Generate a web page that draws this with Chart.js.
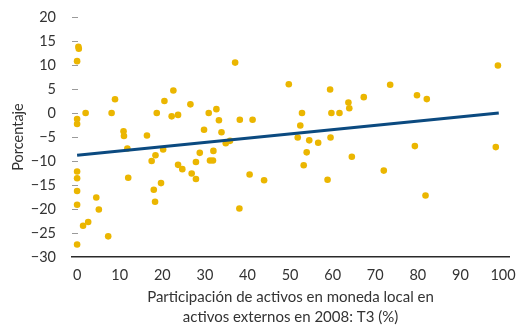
<!DOCTYPE html>
<html>
<head>
<meta charset="UTF-8">
<title>Participación de activos en moneda local</title>
<script src="https://cdn.jsdelivr.net/npm/chart.js@4/dist/chart.umd.min.js"></script>
<style>
  html, body { margin: 0; padding: 0; background: #fff; }
  #wrap { width: 526px; height: 327px; }
</style>
</head>
<body>
<div id="wrap"><canvas id="chart" width="526" height="327"></canvas></div>
<script>
// Participación de activos en moneda local (x, %) vs. variación (y, porcentaje)
var shareLocal = [
  0.3, 0.4, 0, 2.0, 0, 0, 8.1, 8.9, 10.9, 11.0,
  16.4, 18.7, 20.5, 22.6, 22.2, 23.7, 0, 0, 0, 0,
  0, 1.4, 2.6, 4.5, 5.1, 7.3, 11.8, 12.0, 17.5, 18.4,
  20.2, 18.0, 18.3, 19.7, 23.7, 24.7, 26.9, 27.9, 27.9, 28.8,
  31.2, 31.9, 32.0, 34.9, 35.9, 38.1, 40.5, 43.9, 26.6, 30.9,
  32.7, 33.3, 29.8, 33.9, 37.1, 38.2, 41.2, 49.7, 52.8, 52.4,
  59.4, 59.7, 61.6, 51.8, 54.5, 56.6, 59.5, 53.9, 53.2, 58.8,
  63.7, 63.9, 67.3, 73.5, 79.8, 82.1, 98.8, 64.5, 72.0, 79.3,
  81.8, 98.3
];
var pctChange = [
  13.8, 13.4, 10.8, 0, -1.25, -2.3, 0, 2.85, -3.8, -4.8,
  -4.7, 0, 2.5, 4.7, -0.7, -0.4, -12.2, -13.6, -16.25, -19.1,
  -27.4, -23.5, -22.7, -17.6, -20.1, -25.7, -7.4, -13.5, -10.0, -8.8,
  -7.6, -16.0, -18.5, -14.6, -10.8, -11.7, -12.6, -13.75, -10.2, -8.3,
  -9.9, -9.9, -7.9, -6.3, -5.8, -19.9, -12.8, -14.0, 1.8, 0,
  0.8, -1.5, -3.5, -4.0, 10.5, -1.4, -1.4, 6.0, 0, -2.6,
  4.9, 0, 0, -5.1, -5.7, -6.2, -5.1, -8.2, -10.9, -13.9,
  2.2, 1.0, 3.3, 5.9, 3.7, 2.9, 9.9, -9.1, -12.0, -6.9,
  -17.2, -7.1
];

// recta de tendencia (extremos)
var trendX = [0, 99];
var trendY = [-8.8, 0];

var yTicks = [20, 15, 10, 5, 0, -5, -10, -15, -20, -25, -30];
var xTitle = ['Participación de activos en moneda local en', 'activos externos en 2008: T3 (%)'];
var yTitle = 'Porcentaje';

var scatterPts = shareLocal.map(function (x, i) { return { x: x, y: pctChange[i] }; });
var trendPts = trendX.map(function (x, i) { return { x: x, y: trendY[i] }; });

var fontFam = 'Lato, "Open Sans", sans-serif';
var txtColor = '#333333';

function fmtMinus(v) {
  return v < 0 ? '\u2212' + Math.abs(v) : String(v);
}

// short gray marks at each y tick, just inside the plot
var yTickMarks = {
  id: 'yTickMarks',
  beforeDatasetsDraw: function (chart) {
    var ctx = chart.ctx;
    var ys = chart.scales.y;
    var left = chart.chartArea.left;
    ctx.save();
    ctx.strokeStyle = '#9a9a9a';
    ctx.lineWidth = 1;
    yTicks.forEach(function (v) {
      if (v <= ys.min) return;
      var py = Math.round(ys.getPixelForValue(v)) + 0.5;
      ctx.beginPath();
      ctx.moveTo(left, py);
      ctx.lineTo(left + 6, py);
      ctx.stroke();
    });
    ctx.restore();
  }
};

new Chart(document.getElementById('chart'), {
  data: {
    datasets: [
      {
        type: 'line',
        data: trendPts,
        borderColor: '#0b4a80',
        borderWidth: 3,
        pointRadius: 0,
        fill: false
      },
      {
        type: 'scatter',
        data: scatterPts,
        backgroundColor: '#ebb600',
        borderWidth: 0,
        pointRadius: 3.3,
        clip: false
      }
    ]
  },
  options: {
    responsive: false,
    devicePixelRatio: 1,
    animation: false,
    layout: { padding: { top: 17, right: 17, left: 0, bottom: 0 } },
    plugins: { legend: { display: false }, tooltip: { enabled: false } },
    scales: {
      x: {
        type: 'linear',
        min: -1.2,
        max: 101.4,
        afterFit: function (s) { s.height = 70; },
        grid: { display: false },
        border: { display: true, color: '#2a2a2a', width: 1.5 },
        ticks: {
          stepSize: 10,
          includeBounds: false,
          padding: 2,
          color: txtColor,
          font: { family: fontFam, size: 14.5 }
        },
        title: {
          display: true,
          text: xTitle,
          color: txtColor,
          padding: { top: 0, bottom: 0 },
          font: { family: fontFam, size: 15, lineHeight: 20 / 15 }
        }
      },
      y: {
        type: 'linear',
        min: -30,
        max: 20,
        afterFit: function (s) { s.width = 72; },
        afterBuildTicks: function (s) {
          s.ticks = yTicks.map(function (v) { return { value: v }; });
        },
        grid: { display: false },
        border: { display: false },
        ticks: {
          padding: 8,
          color: txtColor,
          font: { family: fontFam, size: 14.5 },
          callback: function (v) { return fmtMinus(v); }
        },
        title: {
          display: true,
          text: yTitle,
          color: txtColor,
          padding: { top: 10, bottom: 0 },
          font: { family: fontFam, size: 14.5 }
        }
      }
    }
  },
  plugins: [yTickMarks]
});
</script>
</body>
</html>
